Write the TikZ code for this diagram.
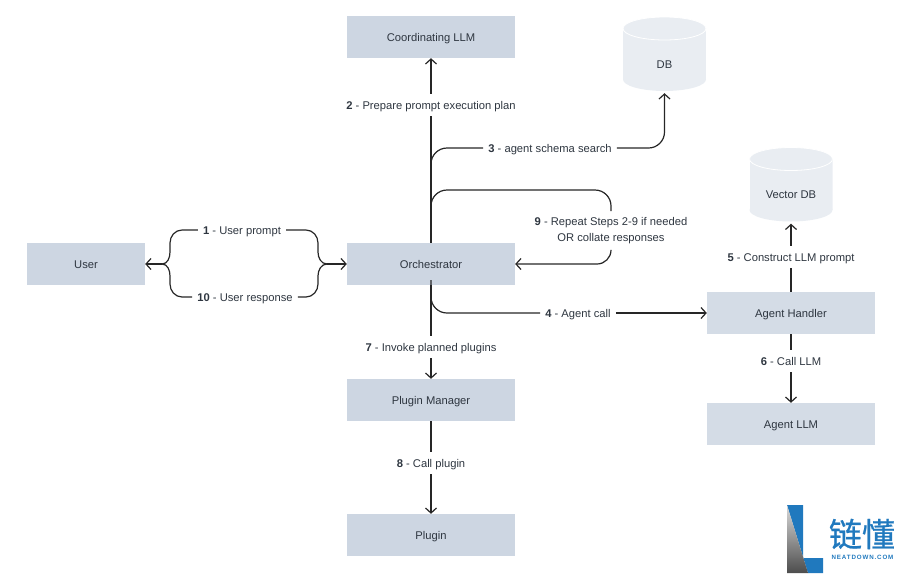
\documentclass[tikz,border=0pt]{standalone}
\usepackage{fontspec}
\setmainfont{Liberation Sans}
\newfontfamily\cjk[FakeBold=0.7]{Noto Sans CJK SC}
\newfontfamily\logofont[LetterSpace=14]{Liberation Sans}
\usetikzlibrary{arrows.meta}
\definecolor{boxblue}{HTML}{CDD6E2}
\definecolor{dbgrey}{HTML}{E9EDF2}
\definecolor{inkgrey}{HTML}{2E3640}
\definecolor{logoblue}{HTML}{2079BE}
\newcommand{\storetext}[1]{\raisebox{-14pt}[0pt][0pt]{#1}}
\begin{document}
\begin{tikzpicture}
[x=1pt, y=-1pt,
block/.style={fill=boxblue, minimum width=168pt, minimum height=42pt, inner sep=0pt, text=inkgrey, text height=8.6pt, text depth=0pt, font=\fontsize{11.2}{13}\selectfont},
agent/.style={block, fill=boxblue!85!white},
store/.style={minimum width=83pt, minimum height=74pt, inner sep=0pt, text=inkgrey, font=\fontsize{11.2}{13}\selectfont,
  path picture={
    \fill[dbgrey] (path picture bounding box.north west) ++(0,11.5) rectangle ++(83,51);
    \fill[dbgrey] (path picture bounding box.south) ++(0,-11.5) ellipse (41.5 and 11.5);
    \draw[white, fill=dbgrey, line width=0.8pt] (path picture bounding box.north) ++(0,11.5) ellipse (41.5 and 11.5);
  }},
steplabel/.style={text=inkgrey, inner xsep=5pt, inner ysep=6.7pt, text height=8.6pt, text depth=0pt, align=center, font=\fontsize{11.2}{16}\selectfont},
flow/.style={black!85, line width=1.2pt},
flowto/.style={flow, -{Straight Barb[length=5pt,width=11pt,line width=1.2pt]}}]
\useasboundingbox (0,0) rectangle (900,574);
\node[block] (coordinating) at (431,37) {Coordinating LLM};
\node[block] (orchestrator) at (431,264) {Orchestrator};
\node[block] (manager) at (431,400) {Plugin Manager};
\node[block] (plugin) at (431,535) {Plugin};
\node[block, minimum width=118pt] (user) at (86,264) {User};
\node[agent] (handler) at (791,313) {Agent Handler};
\node[agent] (agentllm) at (791,424) {Agent LLM};
\node[store] (db) at (664.5,54) {\storetext{DB}};
\node[store] (vectordb) at (791,184.5) {\storetext{Vector DB}};
\node[steplabel] (prompt) at (242,230) {\textbf{1} - User prompt};
\node[steplabel] (response) at (245,297) {\textbf{10} - User response};
\node[steplabel] (plan) at (431,105) {\textbf{2} - Prepare prompt execution plan};
\node[steplabel] (search) at (550,148) {\textbf{3} - agent schema search};
\node[steplabel, text height=, text depth=, inner ysep=6pt] (repeat) at (611,230.5) {\textbf{9} - Repeat Steps 2-9 if needed\\OR collate responses};
\node[steplabel] (call) at (578,313) {\textbf{4} - Agent call};
\node[steplabel] (construct) at (791,257) {\textbf{5} - Construct LLM prompt};
\node[steplabel] (calllm) at (791,361) {\textbf{6} - Call LLM};
\node[steplabel] (invoke) at (431,347) {\textbf{7} - Invoke planned plugins};
\node[steplabel] (callplugin) at (431,463) {\textbf{8} - Call plugin};
\coordinate (forkuser) at (162,264);
\coordinate (forkorch) at (327,264);
\coordinate (searchfoot) at (431,164);
\coordinate (repeatfoot) at (431,212);
\coordinate (callfoot) at (431,296);
\draw[flowto] (forkuser) -- (user.east);
\draw[flowto] (forkorch) -- (orchestrator.west);
\draw[flow] (prompt.west) -- (182,230) to[out=180,in=90] (170,243) -- (170,252) to[out=-90,in=0] (forkuser);
\draw[flow] (response.west) -- (182,297) to[out=180,in=-90] (170,284) -- (170,276) to[out=90,in=0] (forkuser);
\draw[flow] (prompt.east) -- (306,230) to[out=0,in=90] (318,243) -- (318,252) to[out=-90,in=180] (forkorch);
\draw[flow] (response.east) -- (306,297) to[out=0,in=-90] (318,284) -- (318,276) to[out=90,in=180] (forkorch);
\draw[flow] (orchestrator.north) -- (plan.south);
\draw[flowto] (plan.north) -- (coordinating.south);
\draw[flow, rounded corners=16pt] (searchfoot) |- (search.west);
\draw[flowto, rounded corners=16pt, shorten >=2pt] (search.east) -| (db.south);
\draw[flow, rounded corners=16pt] (repeatfoot) |- (611,190) -- (repeat.north);
\draw[flowto, rounded corners=14pt] (repeat.south) |- (orchestrator.east);
\draw[flow, rounded corners=16pt] (orchestrator.south) -- (callfoot) |- (call.west);
\draw[flowto] (call.east) -- (handler.west);
\draw[flow] (handler.north) -- (construct.south);
\draw[flowto, shorten >=2pt] (construct.north) -- (vectordb.south);
\draw[flow] (handler.south) -- (calllm.north);
\draw[flowto] (calllm.south) -- (agentllm.north);
\draw[flow] (orchestrator.south) -- (invoke.north);
\draw[flowto] (invoke.south) -- (manager.north);
\draw[flow] (manager.south) -- (callplugin.north);
\draw[flowto] (callplugin.south) -- (plugin.north);
\fill[logoblue] (787,505) -- (803,505) -- (803,558) -- (823,558) -- (823,573) -- (808,573) -- cycle;
\shade[top color=black!15, bottom color=black!70] (787,505) -- (808,573) -- (787,573) -- cycle;
\node[text=logoblue, inner sep=0pt, font=\cjk\fontsize{33}{33}\selectfont] (logoname) at (862,534) {链懂};
\node[text=logoblue, inner sep=0pt, font=\logofont\bfseries\fontsize{6.2}{7}\selectfont] (logourl) at (862.5,557.5) {NEATDOWN.COM};
\end{tikzpicture}
\end{document}
